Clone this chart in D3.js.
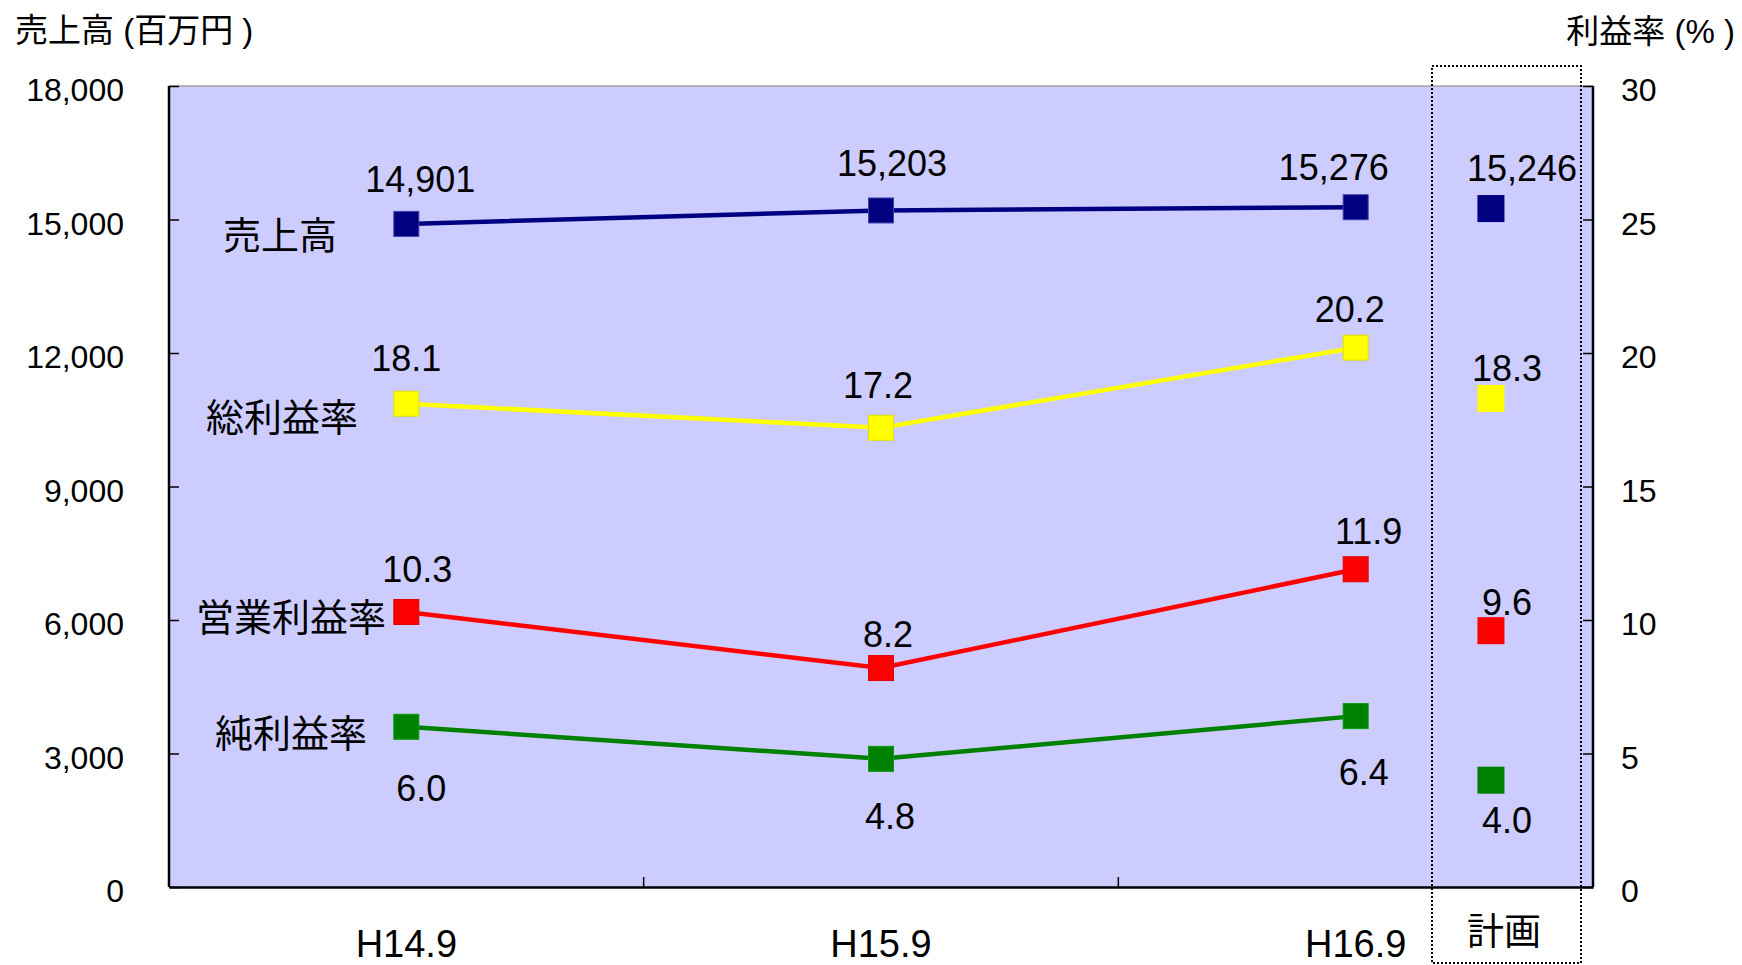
<!DOCTYPE html>
<html>
<head>
<meta charset="utf-8">
<script src="https://cdn.jsdelivr.net/npm/d3@7"></script>
<style>
  body { margin: 0; background: #fff; }
  text { font-family: "Liberation Sans", "Noto Sans CJK JP", sans-serif; fill: #000; }
</style>
</head>
<body>
<div id="chart"></div>
<script>
// Data
const periods = ["H14.9", "H15.9", "H16.9"];
const planLabel = "計画";
const seriesNames = ["売上高", "総利益率", "営業利益率", "純利益率"];
const sales = [14901, 15203, 15276];
const salesPlan = 15246;
const grossRate = [18.1, 17.2, 20.2];
const grossPlan = 18.3;
const opRate = [10.3, 8.2, 11.9];
const opPlan = 9.6;
const netRate = [6.0, 4.8, 6.4];
const netPlan = 4.0;
const leftTicks = [0, 3000, 6000, 9000, 12000, 15000, 18000];
const rightTicks = [0, 5, 10, 15, 20, 25, 30];

// Layout
const W = 1742, H = 965;
const plot = { left: 169, right: 1593, top: 86, bottom: 887 };

const svg = d3.select("#chart").append("svg")
  .attr("width", W).attr("height", H);

const x = d3.scaleBand().domain(periods).range([plot.left, plot.right]).padding(0);
const cx = d => x(d) + x.bandwidth() / 2;
const planX = x("H16.9") + x.bandwidth() * 0.785;

const yL = d3.scaleLinear().domain([0, 18000]).range([plot.bottom, plot.top]);
const yR = d3.scaleLinear().domain([0, 30]).range([plot.bottom, plot.top]);

// Plot background
svg.append("rect")
  .attr("x", plot.left).attr("y", plot.top)
  .attr("width", plot.right - plot.left).attr("height", plot.bottom - plot.top)
  .attr("fill", "#ccccff");
svg.append("line")
  .attr("x1", plot.left).attr("x2", plot.right)
  .attr("y1", plot.top).attr("y2", plot.top)
  .attr("stroke", "#a0a0a0").attr("stroke-width", 1.5);

// Axes
const leftAxis = svg.append("g")
  .attr("transform", `translate(${plot.left},0)`)
  .call(d3.axisRight(yL).tickValues(leftTicks).tickSize(10).tickFormat(""));
const rightAxis = svg.append("g")
  .attr("transform", `translate(${plot.right},0)`)
  .call(d3.axisLeft(yR).tickValues(rightTicks).tickSize(10).tickFormat(""));
const bottomAxis = svg.append("g")
  .attr("transform", `translate(0,${plot.bottom})`)
  .call(d3.axisTop(x).tickValues([]).tickSizeOuter(0));
[leftAxis, rightAxis, bottomAxis].forEach(g => {
  g.selectAll("path.domain").attr("stroke", "#000").attr("stroke-width", 2.5);
  g.selectAll(".tick line").attr("stroke", "#000").attr("stroke-width", 1.5);
});
leftAxis.select("path.domain").attr("d", `M0,${plot.top}V${plot.bottom}`);
rightAxis.select("path.domain").attr("d", `M0,${plot.top}V${plot.bottom}`);
// band boundary ticks on category axis
svg.selectAll("catTicks")
  .data(periods.slice(1))
  .join("line")
  .attr("x1", d => x(d)).attr("x2", d => x(d))
  .attr("y1", plot.bottom).attr("y2", plot.bottom - 10)
  .attr("stroke", "#000").attr("stroke-width", 1.5);

// Tick labels
svg.selectAll("leftLabels")
  .data(leftTicks)
  .join("text")
  .attr("x", 124).attr("y", d => yL(d) + 4)
  .attr("text-anchor", "end").attr("dominant-baseline", "central")
  .style("font-size", "32px")
  .text(d => d3.format(",")(d));
svg.selectAll("rightLabels")
  .data(rightTicks)
  .join("text")
  .attr("x", 1621).attr("y", d => yR(d) + 4)
  .attr("dominant-baseline", "central")
  .style("font-size", "32px")
  .text(d => d);
svg.selectAll("catLabels")
  .data(periods)
  .join("text")
  .attr("x", d => cx(d)).attr("y", 944)
  .attr("text-anchor", "middle").attr("dominant-baseline", "central")
  .style("font-size", "38px")
  .text(d => d);
svg.append("text")
  .attr("x", planX + 13).attr("y", 932)
  .attr("text-anchor", "middle").attr("dominant-baseline", "central")
  .style("font-size", "37px")
  .text(planLabel);

// Axis titles
svg.append("text").attr("x", 15).attr("y", 30)
  .attr("dominant-baseline", "central").style("font-size", "33px")
  .text("売上高 (百万円 )");
svg.append("text").attr("x", 1735).attr("y", 31)
  .attr("text-anchor", "end").attr("dominant-baseline", "central").style("font-size", "33px")
  .text("利益率 (% )");

// Plan box (dotted)
svg.append("rect")
  .attr("x", 1432).attr("y", 66)
  .attr("width", 1581 - 1432).attr("height", 963 - 66)
  .attr("fill", "none").attr("stroke", "#000")
  .attr("stroke-width", 2).attr("stroke-dasharray", "2,2");

// Series
const series = [
  { name: seriesNames[0], values: sales, plan: salesPlan, y: yL, color: "#000080", edge: "#4040b0",
    fmt: d3.format(","), offs: [[14, -44], [11, -47], [-22, -40]], planOff: [31, -40], nameAt: [280, 236] },
  { name: seriesNames[1], values: grossRate, plan: grossPlan, y: yR, color: "#ffff00", edge: "#e0e000",
    fmt: d3.format(".1f"), offs: [[0, -45], [-3, -42], [-6, -38]], planOff: [16, -30], nameAt: [282, 418] },
  { name: seriesNames[2], values: opRate, plan: opPlan, y: yR, color: "#ff0000", edge: "#e00000",
    fmt: d3.format(".1f"), offs: [[11, -42], [7, -34], [13, -38]], planOff: [16, -28], nameAt: [291, 618] },
  { name: seriesNames[3], values: netRate, plan: netPlan, y: yR, color: "#008000", edge: "#00a000",
    fmt: d3.format(".1f"), offs: [[15, 62], [9, 58], [8, 56]], planOff: [16, 40], nameAt: [291, 734] }
];

const line = d3.line();
const ms = 25;

series.forEach(s => {
  const pts = s.values.map((v, i) => [cx(periods[i]), s.y(v)]);
  svg.append("path")
    .attr("d", line(pts))
    .attr("fill", "none").attr("stroke", s.color).attr("stroke-width", 4.5);

  svg.selectAll(null)
    .data(pts)
    .join("rect")
    .attr("x", d => d[0] - ms / 2).attr("y", d => d[1] - ms / 2)
    .attr("width", ms).attr("height", ms)
    .attr("fill", s.color).attr("stroke", s.edge).attr("stroke-width", 1);

  // plan marker
  svg.append("rect")
    .attr("x", planX - 13.5).attr("y", s.y(s.plan) - 13.5)
    .attr("width", 27).attr("height", 27)
    .attr("fill", s.color);

  // data labels
  svg.selectAll(null)
    .data(s.values)
    .join("text")
    .attr("x", (d, i) => pts[i][0] + s.offs[i][0])
    .attr("y", (d, i) => pts[i][1] + s.offs[i][1])
    .attr("text-anchor", "middle").attr("dominant-baseline", "central")
    .style("font-size", "36px")
    .text(d => s.fmt(d));
  svg.append("text")
    .attr("x", planX + s.planOff[0]).attr("y", s.y(s.plan) + s.planOff[1])
    .attr("text-anchor", "middle").attr("dominant-baseline", "central")
    .style("font-size", "36px")
    .text(s.fmt(s.plan));

  // series name
  svg.append("text")
    .attr("x", s.nameAt[0]).attr("y", s.nameAt[1])
    .attr("text-anchor", "middle").attr("dominant-baseline", "central")
    .style("font-size", "38px")
    .text(s.name);
});
</script>
</body>
</html>
